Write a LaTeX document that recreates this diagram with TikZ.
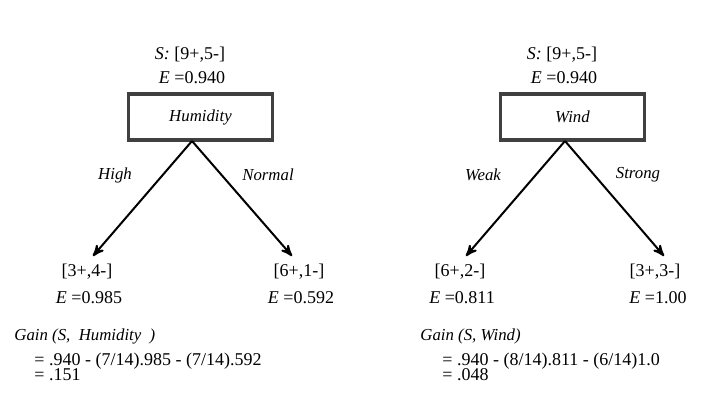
\documentclass[tikz,border=0pt]{standalone}
\usepackage{fontspec}
\setmainfont{Liberation Serif}
\usetikzlibrary{shapes,arrows,positioning,calc}
\tikzset{
  %Define standard arrow tip
  >=stealth',
  %Define style for attribute boxes
  attr/.style={
    rectangle,
    draw=black!75, line width=1.6pt,
    minimum width=72pt,
    minimum height=23pt,
    font=\fontsize{8.4}{10}\selectfont\itshape,
    text centered},
  % Define arrow style
  pil/.style={
    ->,
    line width=1pt},
  lbl/.style={font=\fontsize{8.4}{10}\selectfont\itshape, inner sep=1pt},
  txt/.style={inner sep=1pt}
}
\begin{document}
\begin{tikzpicture}[x=0.5pt,y=-0.5pt,font=\fontsize{9}{10}\selectfont]
    \useasboundingbox (0,0) rectangle (715,410);
    % Humidity
    \node[txt] (sH) at (190,55) {\textit{S:} [9+,5-]};
    \node[txt] (eH) at (192,78) {\textit{E} =0.940};
    \node[attr] (hum) at (200.5,117) {Humidity};
    \coordinate (hapex) at (192,141);
    \node[lbl] (high) at (115,175) {High};
    \node[lbl] (normal) at (268,175) {Normal};
    \node[txt] (c1) at (87,272) {[3+,4-]};
    \node[txt] (e1) at (89,298) {\textit{E} =0.985};
    \node[txt] (c2) at (299,272) {[6+,1-]};
    \node[txt] (e2) at (301,298) {\textit{E} =0.592};
    \coordinate (t1) at (93,256);
    \coordinate (t2) at (292,256);
    \draw[pil] (hapex) -- (t1);
    \draw[pil] (hapex) -- (t2);
    \node[lbl,anchor=west] (gain1) at (12,336) {Gain (S,\ \ Humidity\ \ )};
    \node[txt,anchor=west] (calc1) at (32,361) {= .940 - (7/14).985 - (7/14).592};
    \node[txt,anchor=west] (res1) at (32,375) {= .151};
    % Wind
    \node[txt] (sW) at (562,55) {\textit{S:} [9+,5-]};
    \node[txt] (eW) at (564,78) {\textit{E} =0.940};
    \node[attr] (wind) at (572.5,117) {Wind};
    \coordinate (wapex) at (565,141);
    \node[lbl] (weak) at (483,175) {Weak};
    \node[lbl] (strong) at (638,175) {Strong};
    \node[txt] (c3) at (460,272) {[6+,2-]};
    \node[txt] (e3) at (462,298) {\textit{E} =0.811};
    \node[txt] (c4) at (655,272) {[3+,3-]};
    \node[txt] (e4) at (658,298) {\textit{E} =1.00};
    \coordinate (t3) at (466,256);
    \coordinate (t4) at (664,256);
    \draw[pil] (wapex) -- (t3);
    \draw[pil] (wapex) -- (t4);
    \node[lbl,anchor=west] (gain2) at (418,336) {Gain (S, Wind)};
    \node[txt,anchor=west] (calc2) at (440,361) {= .940 - (8/14).811 - (6/14)1.0};
    \node[txt,anchor=west] (res2) at (440,375) {= .048};
\end{tikzpicture}
\end{document}
